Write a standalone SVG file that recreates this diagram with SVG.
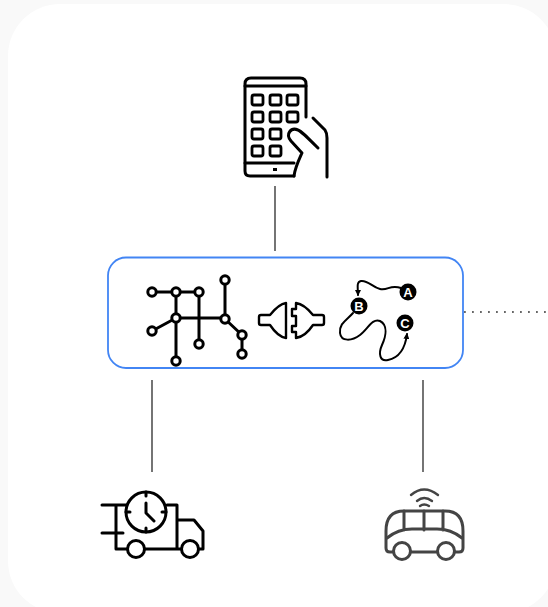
<svg xmlns="http://www.w3.org/2000/svg" width="548" height="607" viewBox="0 0 548 607">
<style>
.i{fill:none;stroke:#000;stroke-width:3;stroke-linecap:round;stroke-linejoin:round}
.w{fill:#fff;stroke:#000;stroke-width:3}
.n{fill:#fff;stroke:#000;stroke-width:3}
.t{fill:none;stroke:#000;stroke-width:2;stroke-linecap:round}
.c{stroke:#666;stroke-width:1.800;fill:none}
.k{fill:none;stroke:#000;stroke-width:2.800}
.p{fill:none;stroke:#000;stroke-width:2.400;stroke-linejoin:round}
.l{font-family:"Liberation Sans",Arial,sans-serif;font-weight:700;font-size:13px;fill:#fff;text-anchor:middle}
.b{fill:none;stroke:#444;stroke-width:3;stroke-linecap:round;stroke-linejoin:round}
.bw{fill:#fff;stroke:#444;stroke-width:3}
</style>
<defs><marker id="ah" markerUnits="userSpaceOnUse" markerWidth="6" markerHeight="6" refX="5" refY="3" orient="auto"><path d="M0 0L6 3L0 6Z" fill="#000"/></marker></defs>
<rect width="548" height="607" fill="#f9f9f9"/>
<rect x="8" y="4" width="548" height="609" rx="52" fill="#fff"/>
<g id="connectors">
<path class="c" d="M275 186V251M152 380V472M423 380V472"/>
<path d="M464 312H548" fill="none" stroke="#666" stroke-width="1.800" stroke-dasharray="1.800 6.200"/>
</g>
<g id="phone">
<path class="i" d="M294 176H250Q245 176 245 171V84Q245 78 251 78H300Q306 78 306 84V117"/>
<path class="i" d="M245 86H306M245 163H294"/>
<path d="M273 168h4v3h-4z" fill="#000"/>
<g class="k">
<rect x="252" y="95" width="11" height="10" rx="2"/><rect x="270" y="95" width="11" height="10" rx="2"/><rect x="287" y="95" width="11" height="10" rx="2"/>
<rect x="252" y="112" width="11" height="10" rx="2"/><rect x="270" y="112" width="11" height="10" rx="2"/><rect x="287" y="112" width="11" height="10" rx="2"/>
<rect x="252" y="129" width="11" height="10" rx="2"/><rect x="270" y="129" width="11" height="10" rx="2"/>
<rect x="252" y="146" width="11" height="10" rx="2"/><rect x="270" y="146" width="11" height="10" rx="2"/>
</g>
<path d="M294 176C295 168 297 164 302 153L291 141C285 134 291 127 298 130C301 131 304 134 318 148" fill="#fff" stroke="#000" stroke-width="3" stroke-linecap="round" stroke-linejoin="round"/>
<path class="i" d="M313 118L325 130Q327 133 327 138V177"/>
</g>
<g id="platform">
<rect x="108" y="257.500" width="355" height="110.500" rx="18" fill="#fff" stroke="#4285f4" stroke-width="1.800"/>
<path class="i" d="M152 292H199M176 292V361M199 292V344M225 280V319M176 318H225M176 318L152 331M225 319L242 335V354"/>
<g class="n">
<circle cx="152" cy="292" r="4.200"/><circle cx="176" cy="292" r="4.200"/><circle cx="199" cy="292" r="4.200"/><circle cx="225" cy="280" r="4.200"/><circle cx="176" cy="318" r="4.200"/><circle cx="225" cy="319" r="4.200"/><circle cx="152" cy="331" r="4.200"/><circle cx="199" cy="344" r="4.200"/><circle cx="176" cy="361" r="4.200"/><circle cx="242" cy="335" r="4.200"/><circle cx="242" cy="354" r="4.200"/>
</g>
<path class="p" d="M286 303C279 304 274 310 270 315H261Q259 315 259 317V323Q259 325 261 325H270C274 331 279 337 286 338Z"/>
<path class="p" d="M296 303C303 304 309 310 313 315H322Q324 315 324 317V323Q324 325 322 325H313C309 331 303 337 296 338V332H292V326H296V316H292V309H296Z"/>
<path class="t" marker-end="url(#ah)" d="M401 288C390 284 388 291 380 289C372 287 368 280 361 281C356 282 358 288 358 295"/>
<path class="t" marker-end="url(#ah)" d="M353 313C347 320 339 323 340 333C341 342 352 341 360 335C368 329 372 318 380 321C388 325 386 336 382 345C378 354 380 362 388 360C398 358 405 350 407 334"/>
<circle cx="408" cy="292" r="8.500" fill="#000"/><text class="l" x="408" y="296.500">A</text>
<circle cx="359" cy="306" r="8.500" fill="#000"/><text class="l" x="359" y="310.500">B</text>
<circle cx="405" cy="323" r="8.500" fill="#000"/><text class="l" x="405" y="327.500">C</text>
</g>
<g id="truck">
<path class="i" d="M102 505H127M102 533H123M116 505V549H181M167 505H177V549M177 520H194L203 531V549H181"/>
<circle class="w" cx="146" cy="512" r="20"/>
<path class="i" d="M146 503V513L154 521M146 492V496M146 528V532M126 512H130M162 512H166"/>
<circle class="w" cx="136" cy="549" r="8.500"/>
<circle class="w" cx="190" cy="549" r="8.500"/>
</g>
<g id="bus">
<path class="b" d="M394 552H390Q386 552 386 548V531Q386 511 404 511H445Q463 511 463 531V548Q463 552 459 552H454M410 552H438"/>
<path class="b" d="M404 511V530M424 511V530M443 511V530M387 538Q398 529 412 529H437Q451 529 462 538"/>
<circle class="bw" cx="402" cy="551" r="8.500"/>
<circle class="bw" cx="446" cy="551" r="8.500"/>
<path d="M411 495Q424 484 438 495M417 501Q424 495 432 501M420 506Q424 503 429 506" fill="none" stroke="#444" stroke-width="2.400" stroke-linecap="round"/>
</g>
</svg>
